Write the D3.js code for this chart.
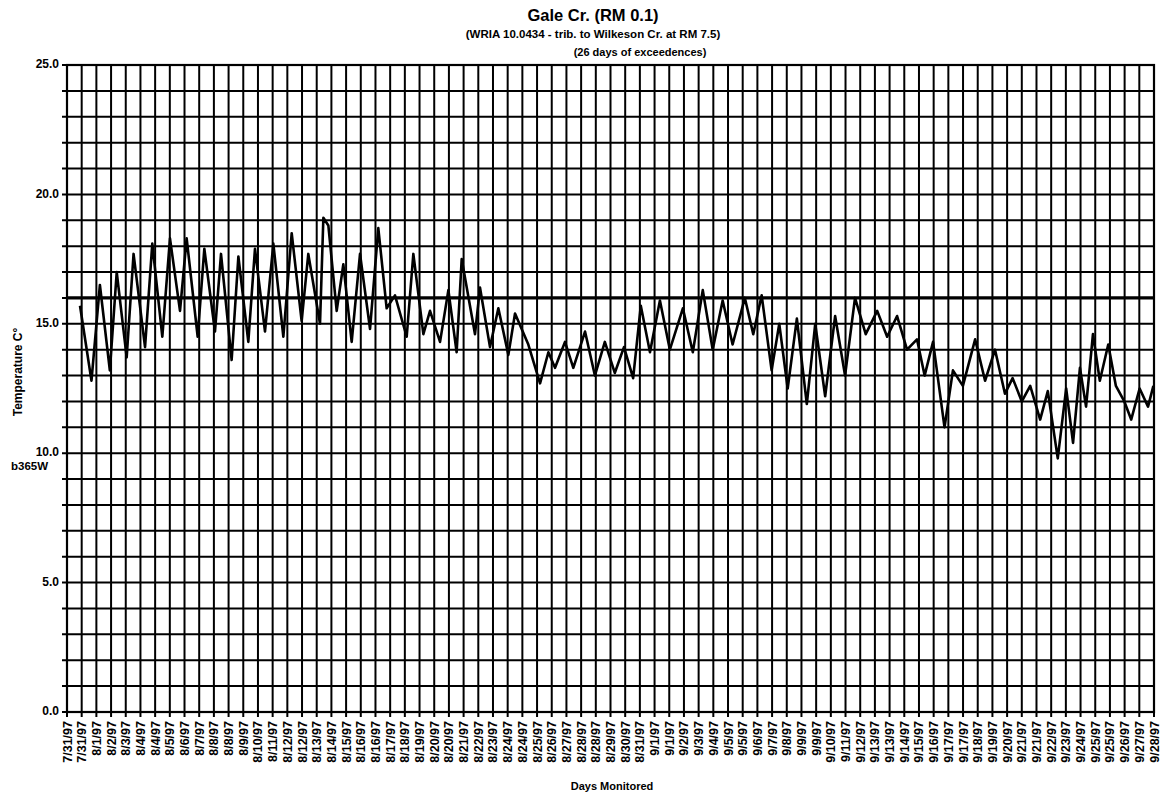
<!DOCTYPE html>
<html>
<head>
<meta charset="utf-8">
<script src="https://cdn.jsdelivr.net/npm/d3@7"></script>
<style>
  html, body { margin: 0; padding: 0; background: #fff; }
  svg { display: block; }
  text { font-family: Arial, "Liberation Sans", sans-serif; font-weight: bold; fill: #000; }
</style>
</head>
<body>
<svg id="chart" width="1163" height="796"></svg>
<script>
// ---------- data ----------
const titleLines = ["Gale Cr. (RM 0.1)", "(WRIA 10.0434 - trib. to Wilkeson Cr. at RM 7.5)", "(26 days of exceedences)"];
const yAxisTitle = "Temperature C°";
const stationLabel = "b365W";
const xAxisTitle = "Days Monitored";

const xLabels = [
  "7/31/97","7/31/97","8/1/97","8/2/97","8/3/97","8/4/97","8/4/97","8/5/97","8/6/97","8/7/97",
  "8/8/97","8/8/97","8/9/97","8/10/97","8/11/97","8/12/97","8/12/97","8/13/97","8/14/97","8/15/97",
  "8/16/97","8/16/97","8/17/97","8/18/97","8/19/97","8/20/97","8/20/97","8/21/97","8/22/97","8/23/97",
  "8/24/97","8/24/97","8/25/97","8/26/97","8/27/97","8/28/97","8/28/97","8/29/97","8/30/97","8/31/97",
  "9/1/97","9/1/97","9/2/97","9/3/97","9/4/97","9/5/97","9/5/97","9/6/97","9/7/97","9/8/97",
  "9/9/97","9/9/97","9/10/97","9/11/97","9/12/97","9/13/97","9/13/97","9/14/97","9/15/97","9/16/97",
  "9/17/97","9/17/97","9/18/97","9/19/97","9/20/97","9/21/97","9/21/97","9/22/97","9/23/97","9/24/97",
  "9/25/97","9/25/97","9/26/97","9/27/97","9/28/97"
];
const hoursPerLabel = 19.2;          // each category label spans 12 readings of 1.6 h
const yTicks = [0, 5, 10, 15, 20, 25];
const threshold = 16.0;

// hours since first label, temperature (deg C)
const hours = [
  17, 32, 43, 56, 65, 78, 87, 102, 111.5, 124.6,
  134.6, 147.7, 156.4, 170.8, 179.5, 193.4, 201.3, 215.2, 224, 237,
  245.7, 258.8, 269.7, 282.8, 293.7, 306.7, 315.4, 330.7, 335.1, 341.6,
  352.5, 361.2, 372.1, 383, 396.1, 406.9, 417.8, 428.7, 444, 452.7,
  465.8, 474.5, 487.6, 498.5, 509.3, 515.9, 533.3, 539.8, 552.9, 563.8,
  576.9, 585.6, 603, 618.3, 629.2, 637.9, 650.9, 661.8, 677.1,
  690, 703, 716, 728, 740, 750, 762, 775, 788, 805,
  818, 831, 844, 857, 870, 886, 897, 908, 921, 931,
  942, 954, 967, 978, 991, 1004, 1017, 1030, 1044, 1059,
  1072, 1085, 1098, 1111, 1121, 1132, 1147, 1158, 1171, 1187,
  1200, 1213, 1226, 1236, 1248, 1259, 1272, 1282, 1295, 1306,
  1315, 1324, 1332, 1341, 1350, 1361, 1371, 1382, 1391, 1402,
  1413, 1420
];
const temps = [
  15.7, 12.8, 16.5, 13.2, 17.0, 13.7, 17.7, 14.1, 18.1, 14.5,
  18.3, 15.5, 18.3, 14.5, 17.9, 14.7, 17.7, 13.6, 17.6, 14.3,
  17.9, 14.7, 18.1, 14.5, 18.5, 15.1, 17.7, 15.0, 19.1, 18.8,
  15.5, 17.3, 14.3, 17.7, 14.8, 18.7, 15.6, 16.1, 14.5, 17.7,
  14.6, 15.5, 14.3, 16.3, 13.9, 17.5, 14.6, 16.4, 14.1, 15.6,
  13.8, 15.4, 14.2, 12.7, 13.9, 13.3, 14.3, 13.3, 14.7,
  13.0, 14.3, 13.1, 14.1, 12.9, 15.7, 13.9, 15.9, 14.0, 15.6,
  13.9, 16.3, 14.0, 15.9, 14.2, 16.0, 14.6, 16.1, 13.2, 15.0,
  12.5, 15.2, 11.9, 15.0, 12.2, 15.3, 13.0, 16.0, 14.6, 15.5,
  14.5, 15.3, 14.0, 14.4, 13.0, 14.3, 11.0, 13.2, 12.6, 14.4,
  12.8, 14.0, 12.3, 12.9, 12.0, 12.6, 11.3, 12.4, 9.8, 12.5,
  10.4, 13.3, 11.8, 14.6, 12.8, 14.2, 12.6, 12.0, 11.3, 12.5,
  11.8, 12.6
];

// ---------- layout ----------
const svg = d3.select("#chart");
const W = 1163, H = 796;
svg.append("rect").attr("width", W).attr("height", H).attr("fill", "#fff");

const plot = { left: 67, right: 1154, top: 65, bottom: 712 };
const x = d3.scaleLinear()
  .domain([0, (xLabels.length - 1) * hoursPerLabel])
  .range([plot.left, plot.right]);
const y = d3.scaleLinear().domain([0, 25]).range([plot.bottom, plot.top]);

const gridG = svg.append("g");
// horizontal grid (every 1 deg), extending out as left ticks
const hVals = d3.range(0, 26, 1);
gridG.selectAll("line.h").data(hVals).join("line")
  .attr("class", "h")
  .attr("x1", plot.left - 5).attr("x2", plot.right)
  .attr("y1", d => y(d)).attr("y2", d => y(d))
  .attr("stroke", "#000").attr("stroke-width", 2);

// vertical grid at every category label, extending below as ticks
const vIdx = d3.range(xLabels.length);
gridG.selectAll("line.v").data(vIdx).join("line")
  .attr("class", "v")
  .attr("x1", i => x(i * hoursPerLabel)).attr("x2", i => x(i * hoursPerLabel))
  .attr("y1", plot.top).attr("y2", plot.bottom + 5)
  .attr("stroke", "#000").attr("stroke-width", 2);

// threshold line
svg.append("line")
  .attr("x1", plot.left).attr("x2", plot.right)
  .attr("y1", y(threshold)).attr("y2", y(threshold))
  .attr("stroke", "#000").attr("stroke-width", 3.2);

// frame
svg.append("rect")
  .attr("x", plot.left).attr("y", plot.top)
  .attr("width", plot.right - plot.left).attr("height", plot.bottom - plot.top)
  .attr("fill", "none").attr("stroke", "#000").attr("stroke-width", 2.2);

// y axis labels
svg.append("g").selectAll("text").data(yTicks).join("text")
  .attr("x", plot.left - 8).attr("y", d => y(d))
  .attr("text-anchor", "end").attr("dominant-baseline", "middle")
  .attr("font-size", 12)
  .text(d3.format(".1f"));

// x axis labels (rotated)
svg.append("g").selectAll("text").data(xLabels).join("text")
  .attr("transform", (d, i) => `translate(${x(i * hoursPerLabel) + 4.5},${plot.bottom + 9}) rotate(-90)`)
  .attr("text-anchor", "end")
  .attr("font-size", 12.5)
  .text(d => d);

// titles
svg.append("text").attr("x", 593).attr("y", 21).attr("text-anchor", "middle")
  .attr("font-size", 16.5).text(titleLines[0]);
svg.append("text").attr("x", 593).attr("y", 38).attr("text-anchor", "middle")
  .attr("font-size", 11.5).text(titleLines[1]);
svg.append("text").attr("x", 640).attr("y", 56).attr("text-anchor", "middle")
  .attr("font-size", 11).text(titleLines[2]);

// axis titles
svg.append("text")
  .attr("transform", `translate(22,372) rotate(-90)`)
  .attr("text-anchor", "middle").attr("font-size", 12).text(yAxisTitle);
svg.append("text").attr("x", 11).attr("y", 470).attr("font-size", 11.5).text(stationLabel);
svg.append("text").attr("x", 612).attr("y", 790).attr("text-anchor", "middle")
  .attr("font-size", 11).text(xAxisTitle);

// data line
const series = hours.map((h, i) => ({ h, t: temps[i] }));
svg.append("path").datum(series)
  .attr("fill", "none").attr("stroke", "#000").attr("stroke-width", 2.6)
  .attr("stroke-linejoin", "round")
  .attr("d", d3.line().x(d => x(d.h)).y(d => y(d.t)));
</script>
</body>
</html>
